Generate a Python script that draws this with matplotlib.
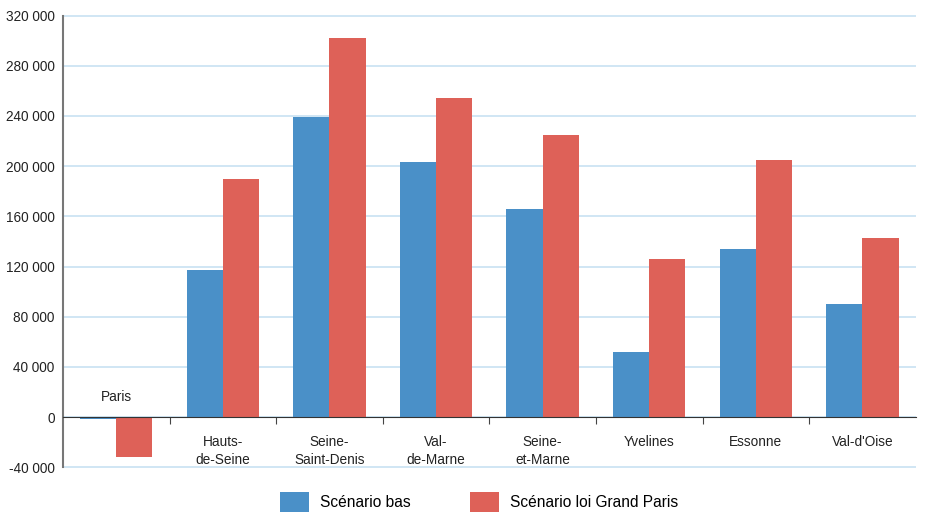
import numpy as np
import matplotlib.pyplot as plt
from matplotlib.patches import Patch

plt.rcParams['font.family'] = ['Liberation Sans', 'DejaVu Sans']

departements = ["Paris", "Hauts-\nde-Seine", "Seine-\nSaint-Denis", "Val-\nde-Marne",
                "Seine-\net-Marne", "Yvelines", "Essonne", "Val-d'Oise"]
scenario_bas = [-1500, 117000, 239000, 203000, 166000, 52000, 134000, 90000]
scenario_gp = [-32000, 190000, 302000, 254000, 225000, 126000, 205000, 143000]
yticks = [-40000, 0, 40000, 80000, 120000, 160000, 200000, 240000, 280000, 320000]

blue = '#4a90c8'
red = '#de6158'

fig = plt.figure(figsize=(9.25, 5.13), dpi=100)
ax = fig.add_axes([0.068, 0.0877, 0.922, 0.8833])

x = np.arange(len(departements))
w = 0.34
ax.bar(x - w / 2, scenario_bas, w, color=blue, zorder=3)
ax.bar(x + w / 2, scenario_gp, w, color=red, zorder=3)

ax.set_xlim(-0.5, len(departements) - 0.5)
ax.set_ylim(-40600, 320600)
ax.set_yticks(yticks)
ax.set_yticklabels([f"{v:,}".replace(",", " ") for v in yticks], fontsize=9.8, color='#222222')
ax.tick_params(axis='y', length=0, pad=6)
ax.yaxis.grid(True, color='#c8e2f2', linewidth=1.2, zorder=0)

ax.spines['top'].set_visible(False)
ax.spines['right'].set_visible(False)
ax.spines['left'].set_color('#777777')
ax.spines['left'].set_linewidth(1.5)
ax.spines['left'].set_bounds(-40000, 320000)
ax.spines['bottom'].set_position(('data', 0))
ax.spines['bottom'].set_color('#333333')
ax.spines['bottom'].set_zorder(4)

ax.set_xticks(x[:-1] + 0.5)
ax.set_xticklabels([])
ax.tick_params(axis='x', length=5, direction='out', color='#444444')

for i, name in enumerate(departements):
    if scenario_gp[i] < 0:
        ax.text(i, 16000, name, ha='center', va='center', fontsize=9.8, color='#222222')
    else:
        ax.text(i, -14500, name, ha='center', va='top', fontsize=9.8, color='#222222',
                linespacing=1.3)

handles = [Patch(facecolor=blue, label='Scénario bas'),
           Patch(facecolor=red, label='Scénario loi Grand Paris')]
fig.legend(handles=handles, loc='lower center', bbox_to_anchor=(0.518, -0.025), ncol=2,
           frameon=False, fontsize=11.2, handlelength=1.85, handleheight=1.55,
           columnspacing=3.8, handletextpad=0.75)

fig.savefig('out.png', dpi=100)
